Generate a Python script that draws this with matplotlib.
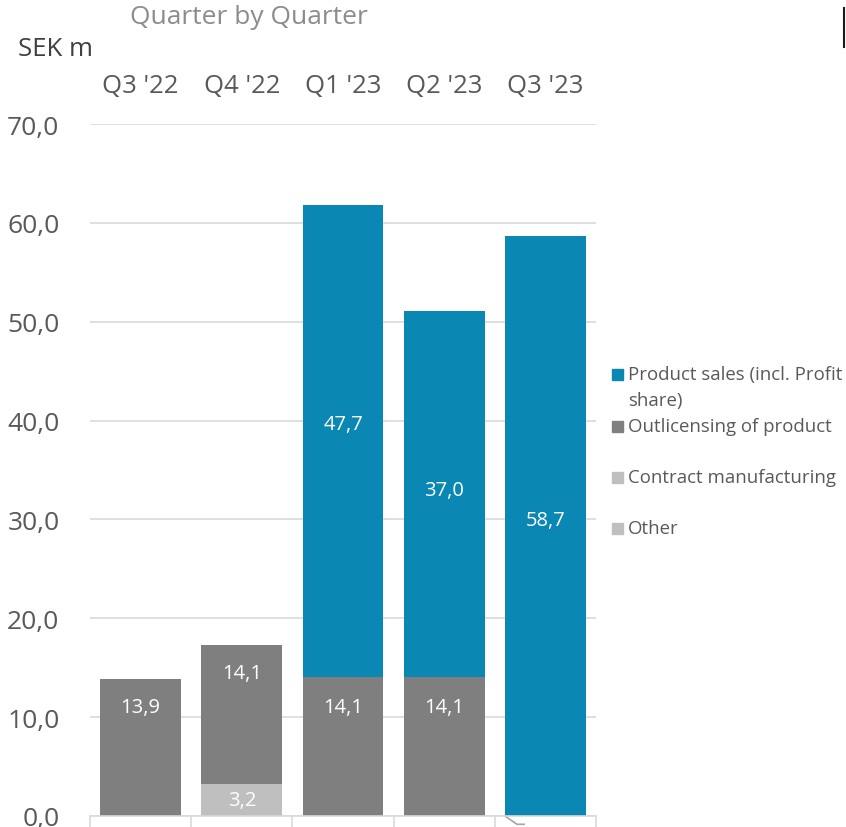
import matplotlib
matplotlib.use("Agg")
import matplotlib.pyplot as plt
from matplotlib.ticker import FuncFormatter
from matplotlib.patches import Rectangle
from matplotlib.lines import Line2D
import numpy as np

plt.rcParams['font.family'] = ['Open Sans', 'DejaVu Sans']

quarters = ["Q3 '22", "Q4 '22", "Q1 '23", "Q2 '23", "Q3 '23"]
other = [0.0, 0.0, 0.0, 0.0, 0.0]
contract = [0.0, 3.2, 0.0, 0.0, 0.0]
outlicensing = [13.9, 14.1, 14.1, 14.1, 0.0]
product = [0.0, 0.0, 47.7, 37.0, 58.7]

series_names = ["Product sales (incl. Profit\nshare)", "Outlicensing of product",
                "Contract manufacturing", "Other"]
c_product = "#0a87b2"
c_out = "#7f7f7f"
c_light = "#bfbfbf"

# label placement (layout, in axis units) as in the original chart
lab_contract_y = [None, 1.6, None, None, None]
lab_out_y = [11.0, 14.5, 11.0, 11.0, None]
lab_product_y = [None, None, 39.65, 33.0, 29.9]

fig = plt.figure(figsize=(8.46, 8.28), dpi=100)
ax = fig.add_axes([90/846, 11/828, 506/846, 692/828])

x = np.arange(len(quarters))
w = 0.8
b0 = np.array(other)
b1 = b0 + np.array(contract)
b2 = b1 + np.array(outlicensing)
ax.bar(x, other, w, color=c_light, zorder=2)
ax.bar(x, contract, w, bottom=b0, color=c_light, zorder=2)
ax.bar(x, outlicensing, w, bottom=b1, color=c_out, zorder=2)
ax.bar(x, product, w, bottom=b2, color=c_product, zorder=2)

def fmt(v):
    return f"{v:.1f}".replace('.', ',')

for i in range(len(quarters)):
    for vals, ys in [(contract, lab_contract_y), (outlicensing, lab_out_y), (product, lab_product_y)]:
        if vals[i] > 0:
            ax.text(x[i], ys[i], fmt(vals[i]), ha='center', va='center',
                    color='white', fontsize=14.5, zorder=3)

ax.set_xlim(-0.5, 4.5)
ax.set_ylim(0, 70)
ax.set_yticks(np.arange(0, 71, 10))
ax.yaxis.set_major_formatter(FuncFormatter(lambda v, p: fmt(v)))
ax.grid(axis='y', color='#d9d9d9', linewidth=1.2, zorder=0)
ax.tick_params(axis='y', length=0, pad=22, labelsize=19, labelcolor='#595959')
for s in ['left', 'right', 'top']:
    ax.spines[s].set_visible(False)
ax.spines['bottom'].set_color('#d9d9d9')
ax.spines['bottom'].set_linewidth(1.2)

ax.set_xticks(x, quarters)
ax.tick_params(axis='x', which='major', bottom=False, top=False,
               labelbottom=False, labeltop=True, pad=15, labelsize=18.5,
               labelcolor='#595959')
ax.set_xticks(np.arange(-0.5, 5, 1), minor=True)
ax.tick_params(axis='x', which='minor', bottom=True, top=False, length=8,
               width=1.2, color='#d9d9d9', direction='out')

# small leader line under last bar
ax.add_line(Line2D([3.6, 3.72, 3.79], [0, -0.012, -0.012], transform=ax.get_xaxis_transform(),
                   color='#a6a6a6', linewidth=1.2, clip_on=False))

fig.text(130/846, 1 - 17/828, "Quarter by Quarter", fontsize=19, color='#8c8c8c',
         ha='left', va='center')
fig.text(18/846, 1 - 50/828, "SEK m", fontsize=18.5, color='#404040',
         ha='left', va='center')

# legend
leg = [(series_names[0], c_product, 375),
       (series_names[1], c_out, 427),
       (series_names[2], c_light, 478),
       (series_names[3], c_light, 529)]
for name, col, yc in leg:
    fig.patches.append(Rectangle((612/846, 1 - (yc + 5.5)/828), 11/846, 11/828,
                                 transform=fig.transFigure, color=col))
    lines = name.split('\n')
    for k, ln in enumerate(lines):
        fig.text(628/846, 1 - (yc + 26 * k)/828, ln, fontsize=13.4, color='#595959',
                 ha='left', va='center')

fig.add_artist(Line2D([843.5/846, 843.5/846], [1 - 9/828, 1 - 48/828],
                      transform=fig.transFigure, color='#1a1a1a', linewidth=1.5))

fig.savefig("out.png", dpi=100)
